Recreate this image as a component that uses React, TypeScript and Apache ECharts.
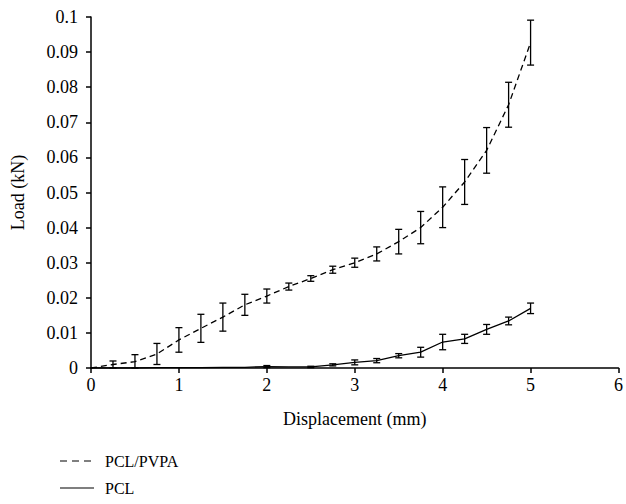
import React, { useEffect, useRef } from "react";
import * as echarts from "echarts";

const displacement = [0, 0.25, 0.5, 0.75, 1, 1.25, 1.5, 1.75, 2, 2.25, 2.5, 2.75, 3, 3.25, 3.5, 3.75, 4, 4.25, 4.5, 4.75, 5];
const pvpaLoad = [0, 0.001, 0.0018, 0.004, 0.008, 0.0113, 0.0145, 0.018, 0.0205, 0.0232, 0.0255, 0.028, 0.03, 0.0325, 0.036, 0.040, 0.0458, 0.053, 0.062, 0.075, 0.0927];
const pvpaErr = [0, 0.001, 0.002, 0.003, 0.0035, 0.004, 0.004, 0.003, 0.002, 0.001, 0.0008, 0.001, 0.0013, 0.002, 0.0035, 0.0046, 0.0058, 0.0064, 0.0065, 0.0064, 0.0064];
const pclLoad = [0, 0, 0, 0.0001, 0.0001, 0.0001, 0.0002, 0.0002, 0.0004, 0.0003, 0.0003, 0.0009, 0.0016, 0.0021, 0.0035, 0.0045, 0.0074, 0.0083, 0.011, 0.0134, 0.017];
const pclErr = [0, 0, 0, 0, 0, 0, 0, 0, 0.0003, 0, 0.0002, 0.0003, 0.0007, 0.0006, 0.0006, 0.0014, 0.0022, 0.0013, 0.0014, 0.0011, 0.0015];
const xTicks = [0, 6, 1];
const yTicks = [0, 0.1, 0.01];
const seriesNames = ["PCL/PVPA", "PCL"];

const FONT = "Liberation Serif";
const FS = 18;
const LFS = 16;

function errData(vals: number[], errs: number[]) {
  const out: number[][] = [];
  displacement.forEach((x, i) => {
    if (errs[i] > 0) out.push([x, Math.max(0, vals[i] - errs[i]), vals[i] + errs[i]]);
  });
  return out;
}

const renderErr = (params: any, api: any) => {
  const x = api.value(0);
  const lo = api.value(1);
  const hi = api.value(2);
  const p1 = api.coord([x, hi]);
  const p2 = api.coord([x, lo]);
  const w = 3.5;
  const st = { stroke: "#000", lineWidth: 1.3 };
  return {
    type: "group",
    children: [
      { type: "line", shape: { x1: p1[0], y1: p1[1], x2: p2[0], y2: p2[1] }, style: st },
      { type: "line", shape: { x1: p1[0] - w, y1: p1[1], x2: p1[0] + w, y2: p1[1] }, style: st },
      { type: "line", shape: { x1: p2[0] - w, y1: p2[1], x2: p2[0] + w, y2: p2[1] }, style: st },
    ],
  };
};

export default function App() {
  const ref = useRef<HTMLDivElement>(null);
  useEffect(() => {
    document.body.style.margin = "0";
    if (!ref.current) return;
    const chart = echarts.init(ref.current, undefined, { renderer: "svg" });
    const axisCommon = {
      axisLine: { show: true, lineStyle: { color: "#000", width: 1.5 } },
      axisTick: { show: true, inside: false, length: 5, lineStyle: { color: "#000", width: 1.5 } },
      splitLine: { show: false },
      axisLabel: { color: "#000", fontFamily: FONT, fontSize: FS },
      nameTextStyle: { color: "#000", fontFamily: FONT, fontSize: FS },
    };
    chart.setOption({
      animation: false,
      backgroundColor: "#fff",
      textStyle: { fontFamily: FONT },
      grid: { left: 91, right: 6, top: 17, bottom: 136, containLabel: false },
      xAxis: {
        type: "value",
        min: xTicks[0],
        max: xTicks[1],
        interval: xTicks[2],
        name: "Displacement (mm)",
        nameLocation: "middle",
        nameGap: 42,
        ...axisCommon,
        axisLabel: { ...axisCommon.axisLabel, margin: 8 },
      },
      yAxis: {
        type: "value",
        min: yTicks[0],
        max: yTicks[1],
        interval: yTicks[2],
        name: "Load (kN)",
        nameLocation: "middle",
        nameGap: 64,
        ...axisCommon,
        axisLabel: {
          ...axisCommon.axisLabel,
          margin: 13,
          formatter: (v: number) => String(+v.toFixed(2)),
        },
      },
      series: [
        {
          name: seriesNames[0],
          type: "line",
          data: displacement.map((x, i) => [x, pvpaLoad[i]]),
          symbol: "none",
          lineStyle: { color: "#000", width: 1.3, type: [6, 4] },
        },
        {
          name: seriesNames[1],
          type: "line",
          data: displacement.map((x, i) => [x, pclLoad[i]]),
          symbol: "none",
          lineStyle: { color: "#000", width: 1.3, type: "solid" },
        },
        {
          type: "custom",
          renderItem: renderErr,
          data: errData(pvpaLoad, pvpaErr),
          encode: { x: 0, y: [1, 2] },
          z: 3,
        },
        {
          type: "custom",
          renderItem: renderErr,
          data: errData(pclLoad, pclErr),
          encode: { x: 0, y: [1, 2] },
          z: 3,
        },
      ],
      graphic: [
        { type: "line", shape: { x1: 60, y1: 461, x2: 94, y2: 461 }, style: { stroke: "#000", lineWidth: 1.2, lineDash: [7, 5] } },
        { type: "text", x: 105, y: 461, style: { text: seriesNames[0], fill: "#000", fontFamily: FONT, fontSize: LFS, verticalAlign: "middle" } },
        { type: "line", shape: { x1: 60, y1: 488, x2: 94, y2: 488 }, style: { stroke: "#000", lineWidth: 1.2 } },
        { type: "text", x: 105, y: 488, style: { text: seriesNames[1], fill: "#000", fontFamily: FONT, fontSize: LFS, verticalAlign: "middle" } },
      ],
    });
    return () => chart.dispose();
  }, []);
  return <div ref={ref} style={{ width: 626, height: 504 }} />;
}
